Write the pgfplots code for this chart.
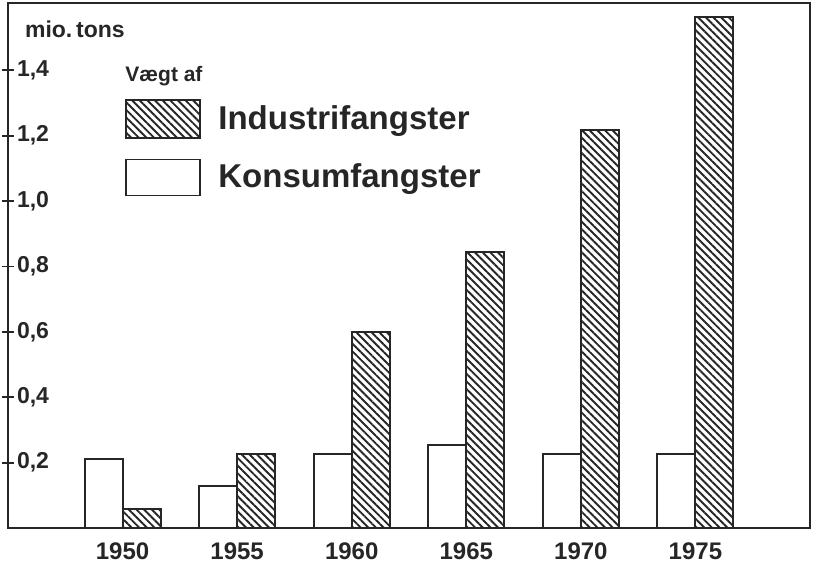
\documentclass[border=0pt]{standalone}
\usepackage{fontspec}
\setmainfont{Liberation Sans}
\usepackage{pgfplots}
\pgfplotsset{compat=1.18}
\usetikzlibrary{patterns.meta}
\definecolor{ink}{gray}{0.15}
\begin{document}
\begin{tikzpicture}
\begin{axis}[
  scale only axis,
  width=401pt, height=262.5pt,
  ybar=0pt, bar width=19pt,
  xmin=-1, xmax=6, ymin=0, ymax=1.606,
  xtick={0,1,2,3,4,5},
  xticklabels={1950,1955,1960,1965,1970,1975},
  x tick style={draw=none},
  xticklabel style={font=\fontsize{12}{14}\selectfont\bfseries, yshift=-1pt, text=ink},
  ytick={0.2,0.4,0.6,0.8,1.0,1.2,1.4},
  ytick pos=left,
  tick align=center,
  major tick length=6pt,
  y tick style={line width=0.9pt, ink},
  yticklabel style={anchor=west, xshift=4pt, font=\fontsize{11.5}{13}\selectfont\bfseries, text=ink,
    /pgf/number format/.cd, fixed, fixed zerofill, precision=1, use comma, assume math mode=true},
  axis line style={line width=1.3pt, ink},
  legend cell align=left,
  legend style={at={(rel axis cs:0.146,0.826)}, anchor=north west, draw=none, fill=none,
    font=\fontsize{16.5}{19}\selectfont\bfseries, text=ink, row sep=10pt, inner xsep=0pt},
  reverse legend,
]
\addplot[draw=ink, line width=1pt, fill=white,
  legend image code/.code={\draw[draw=ink, line width=0.9pt, fill=white] (0pt,-9pt) rectangle (37pt,9pt); \path (43.5pt,0pt);}]
  coordinates {(0,0.21) (1,0.13) (2,0.225) (3,0.255) (4,0.225) (5,0.225)};
\addlegendentry{Konsumfangster}
\addplot[draw=ink, line width=1pt, pattern={Lines[angle=-45,distance=2.7pt,line width=0.95pt]}, pattern color=ink,
  legend image code/.code={\draw[draw=ink, line width=0.9pt, pattern={Lines[angle=-45,distance=2.7pt,line width=0.95pt]}, pattern color=ink] (0pt,-9.5pt) rectangle (37pt,9.5pt); \path (43.5pt,0pt);}]
  coordinates {(0,0.058) (1,0.225) (2,0.60) (3,0.843) (4,1.218) (5,1.563)};
\addlegendentry{Industrifangster}
\node[anchor=west, font=\fontsize{11.5}{13}\selectfont\bfseries, text=ink] at (rel axis cs:0,0.949) [xshift=5pt] {mio.\,tons};
\node[anchor=west, inner xsep=0pt, font=\fontsize{10.5}{12}\selectfont\bfseries, text=ink] at (rel axis cs:0.146,0.86) {Vægt af};
\end{axis}
\pgfresetboundingbox
\path[use as bounding box] ([xshift=-4pt,yshift=-18pt]current axis.south west) rectangle ([xshift=1.5pt,yshift=1.5pt]current axis.north east);
\end{tikzpicture}
\end{document}
